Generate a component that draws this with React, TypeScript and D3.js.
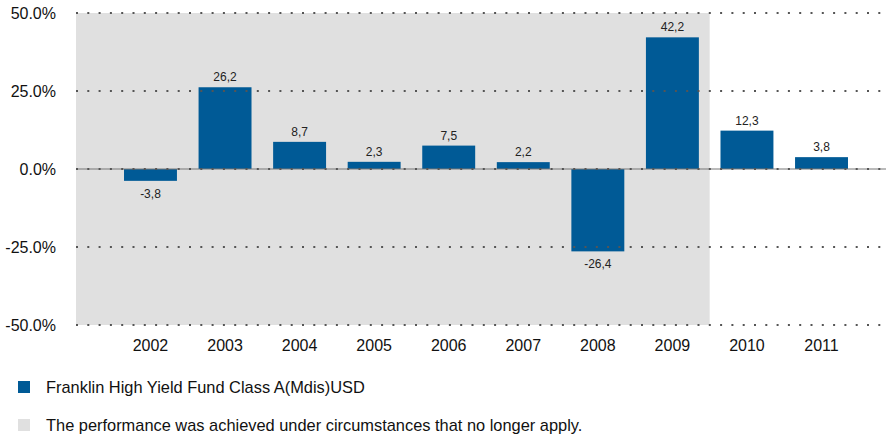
import { useEffect, useRef } from 'react';
import * as d3 from 'd3';

const years = ['2002', '2003', '2004', '2005', '2006', '2007', '2008', '2009', '2010', '2011'];
const returns = [-3.8, 26.2, 8.7, 2.3, 7.5, 2.2, -26.4, 42.2, 12.3, 3.8];
const yTicks = [-50, -25, 0, 25, 50];
const shadedUntil = '2009';
const seriesName = 'Franklin High Yield Fund Class A(Mdis)USD';
const shadeNote = 'The performance was achieved under circumstances that no longer apply.';

export default function App() {
  const svgRef = useRef<SVGSVGElement>(null);

  useEffect(() => {
    const width = 888;
    const height = 434;
    const left = 76;
    const right = 886;
    const font = 'Arial, "Liberation Sans", sans-serif';
    const barColor = '#005a96';

    const svg = d3.select(svgRef.current);
    svg.selectAll('*').remove();
    svg.attr('width', width).attr('height', height);

    const x = d3.scaleBand<string>().domain(years).range([113.2, 858.8]).paddingInner(0.29).paddingOuter(0.145);
    const y = d3.scaleLinear().domain([-50, 50]).range([325, 13]);

    // shaded area (past circumstances)
    const shadeEnd = (x(shadedUntil) as number) + x.bandwidth() + (x.step() - x.bandwidth()) / 2;
    svg.append('rect')
      .attr('x', left)
      .attr('y', y(50))
      .attr('width', shadeEnd - left)
      .attr('height', y(-50) - y(50))
      .attr('fill', '#e0e0e0');

    // bars
    svg.selectAll('.bar')
      .data(years)
      .enter()
      .append('rect')
      .attr('x', (d) => x(d) as number)
      .attr('width', x.bandwidth())
      .attr('y', (d, i) => y(Math.max(0, returns[i])))
      .attr('height', (d, i) => Math.abs(y(returns[i]) - y(0)))
      .attr('fill', barColor);

    // zero line
    svg.append('line')
      .attr('x1', left).attr('x2', right)
      .attr('y1', y(0)).attr('y2', y(0))
      .attr('stroke', '#777').attr('stroke-width', 1);

    // dotted grid
    svg.selectAll('.grid')
      .data(yTicks)
      .enter()
      .append('line')
      .attr('x1', left).attr('x2', right)
      .attr('y1', (d) => y(d)).attr('y2', (d) => y(d))
      .attr('stroke', '#555')
      .attr('stroke-width', 2)
      .attr('stroke-dasharray', '2,9.3');

    // y tick labels
    svg.selectAll('.ytick')
      .data(yTicks)
      .enter()
      .append('text')
      .attr('x', 56)
      .attr('y', (d) => y(d) + 5.5)
      .attr('text-anchor', 'end')
      .style('font-family', font)
      .style('font-size', '16px')
      .style('fill', '#111')
      .text((d) => `${d.toFixed(1)}%`);

    // year labels
    svg.selectAll('.xtick')
      .data(years)
      .enter()
      .append('text')
      .attr('x', (d) => (x(d) as number) + x.bandwidth() / 2)
      .attr('y', 351)
      .attr('text-anchor', 'middle')
      .style('font-family', font)
      .style('font-size', '16px')
      .style('fill', '#111')
      .text((d) => d);

    // value labels
    svg.selectAll('.val')
      .data(years)
      .enter()
      .append('text')
      .attr('x', (d) => (x(d) as number) + x.bandwidth() / 2)
      .attr('y', (d, i) => (returns[i] >= 0 ? y(returns[i]) - 6 : y(returns[i]) + 17))
      .attr('text-anchor', 'middle')
      .style('font-family', font)
      .style('font-size', '12px')
      .style('fill', '#222')
      .text((d, i) => returns[i].toFixed(1).replace('.', ','));

    // legend
    const legend = [
      { label: seriesName, color: barColor, y: 387 },
      { label: shadeNote, color: '#e0e0e0', y: 425 },
    ];
    legend.forEach((l) => {
      svg.append('rect')
        .attr('x', 18).attr('y', l.y - 6)
        .attr('width', 12).attr('height', 12)
        .attr('fill', l.color);
      svg.append('text')
        .attr('x', 46).attr('y', l.y + 5.5)
        .style('font-family', font)
        .style('font-size', '16.4px')
        .style('fill', '#111')
        .text(l.label);
    });
  }, []);

  return (
    <div style={{ position: 'absolute', left: 0, top: 0 }}>
      <svg ref={svgRef} style={{ display: 'block' }}></svg>
    </div>
  );
}
